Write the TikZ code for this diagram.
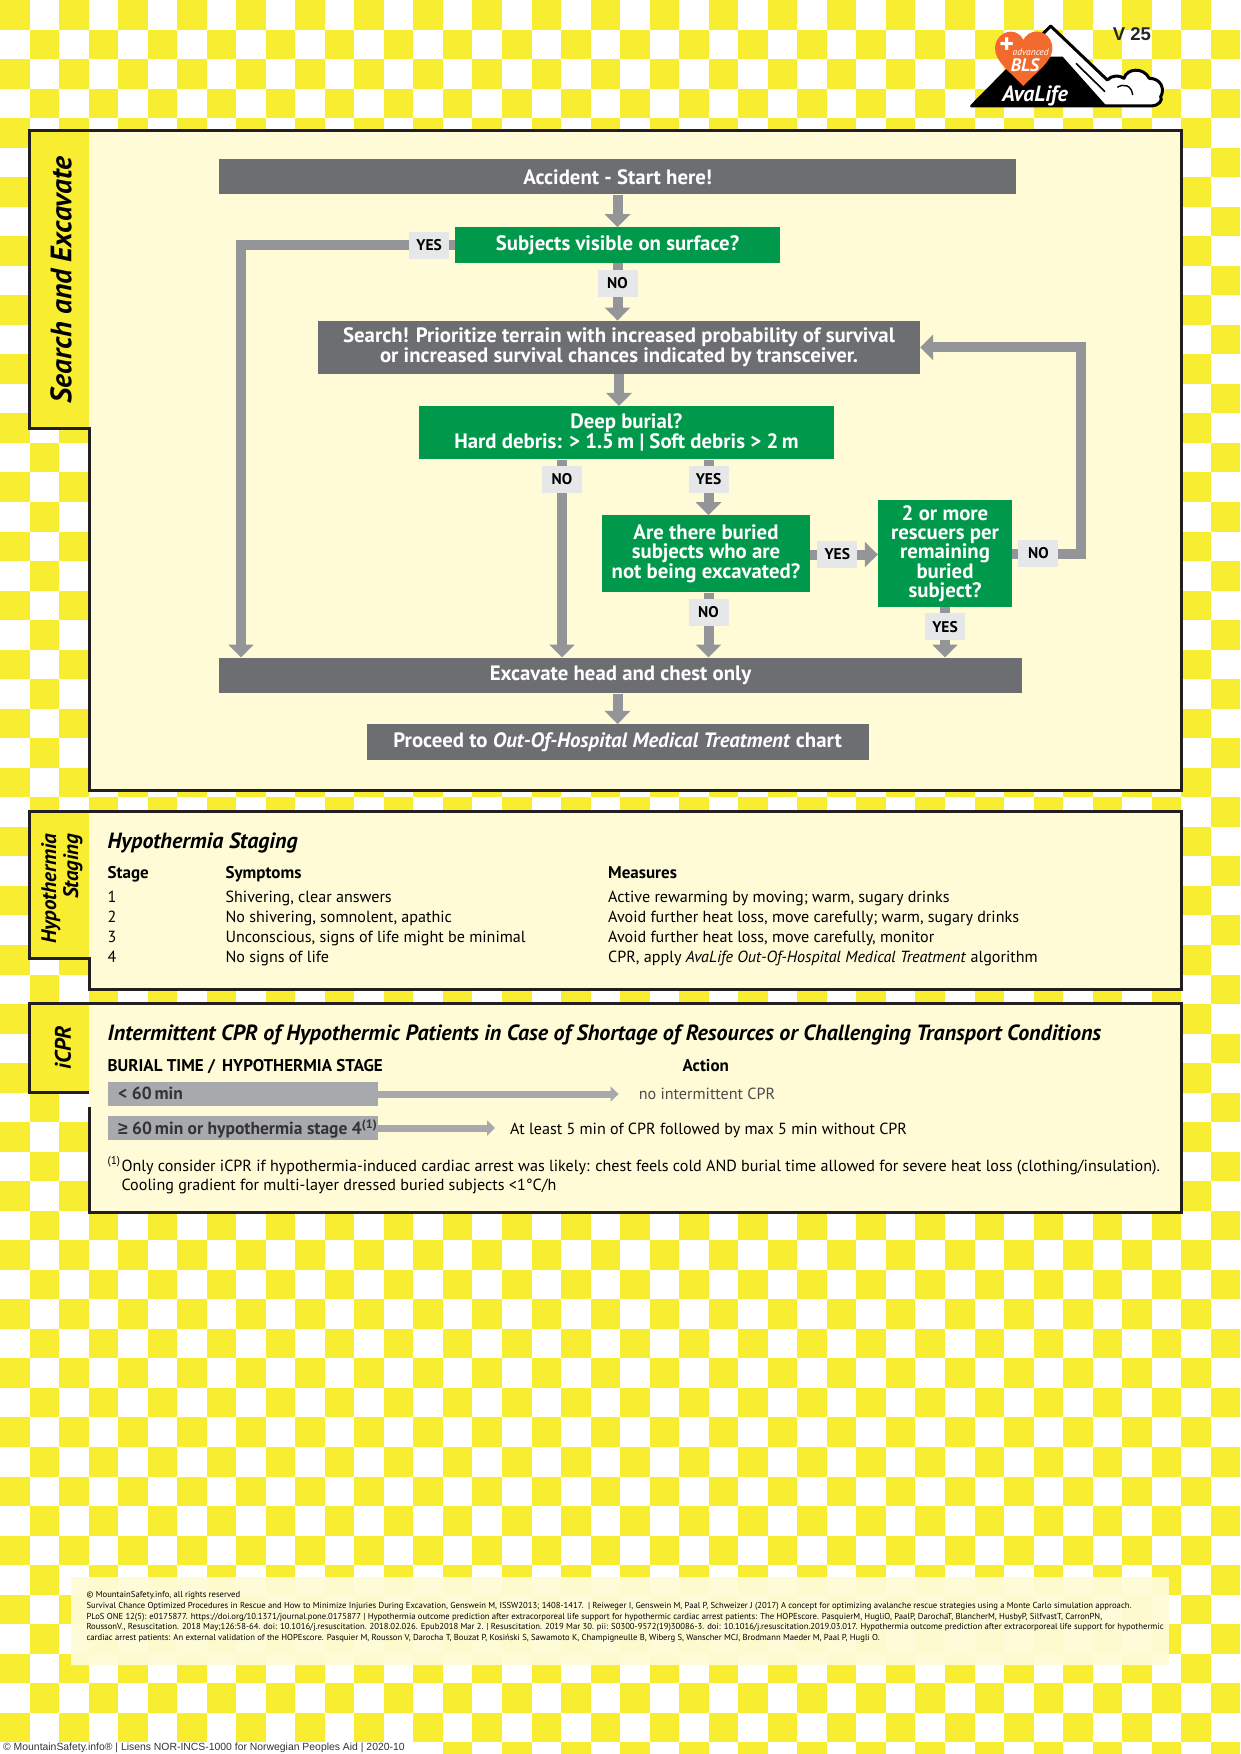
\documentclass[tikz,border=0pt]{standalone}
\usepackage{fontspec}
\usepackage{xcolor}
\setmainfont{PT Sans}
\newfontfamily\arialfont{Liberation Sans}
\usetikzlibrary{arrows.meta}
\definecolor{checkyellow}{HTML}{F9ED32}
\definecolor{panelcream}{HTML}{FEFBD6}
\definecolor{paneledge}{HTML}{231F20}
\definecolor{boxgrey}{HTML}{6D6E71}
\definecolor{boxgreen}{HTML}{00994C}
\definecolor{arrowgrey}{HTML}{939598}
\definecolor{taggrey}{HTML}{E6E7E8}
\definecolor{bargrey}{HTML}{A7A9AC}
\definecolor{heartorange}{HTML}{F26A2E}
\tikzstyle{panel} = [fill=panelcream, draw=paneledge, line width=3pt, line join=miter]
\tikzstyle{tabfill} = [fill=checkyellow]
\tikzstyle{tabtext} = [rotate=90, inner sep=0pt, font=\bfseries\itshape\fontsize{29.5}{30}\selectfont]
\tikzstyle{greybox} = [rectangle, fill=boxgrey, text=white, inner sep=0pt, align=center, font=\bfseries\fontsize{20.8}{19}\selectfont]
\tikzstyle{greenbox} = [greybox, fill=boxgreen]
\tikzstyle{answer} = [rectangle, fill=taggrey, text=black, inner sep=0pt, minimum width=40pt, minimum height=27pt, font=\bfseries\fontsize{15.5}{16}\selectfont]
\tikzstyle{arrow} = [draw=arrowgrey, line width=10pt, line join=miter, -{Triangle[length=13pt,width=25pt]}]
\tikzstyle{bararrow} = [draw=bargrey, line width=7pt, -{Triangle[length=8pt,width=15pt]}]
\tikzstyle{heading} = [anchor=base west, inner sep=0pt, font=\bfseries\itshape\fontsize{22}{22}\selectfont]
\tikzstyle{colhead} = [anchor=base west, inner sep=0pt, font=\bfseries\fontsize{17}{17}\selectfont]
\tikzstyle{cell} = [anchor=base west, inner sep=0pt, font=\fontsize{16.1}{17}\selectfont]
\tikzstyle{bar} = [rectangle, fill=bargrey, inner sep=0pt, minimum width=270.5pt, minimum height=24pt]
\tikzstyle{bartext} = [anchor=base west, inner sep=0pt, font=\bfseries\fontsize{17.5}{17.5}\selectfont, text=black!80]
\tikzstyle{reference} = [anchor=west, inner sep=0pt, font=\fontsize{8.65}{9.6}\selectfont]
\begin{document}
\begin{tikzpicture}[x=1pt,y=-1pt]
	\useasboundingbox (0,0) rectangle (1240,1754);
	\fill[white] (0,0) rectangle (1240,1754);
	\foreach \row in {0,...,59}
		\foreach \col in {0,...,41}
			{\ifodd\numexpr\row+\col\relax\else
				\fill[checkyellow] (\col*29.53,\row*29.53) rectangle +(29.53,29.53);
			\fi}
	\fill[white] (0,1742) rectangle (416,1754);
	\node (credit) [anchor=west, inner sep=0pt, font=\arialfont\fontsize{10.4}{12}\selectfont, text=black!80] at (3,1748) {© MountainSafety.info® | Lisens NOR-INCS-1000 for Norwegian Peoples Aid | 2020-10};

	% logo
	\begin{scope}[shift={(920,0)},x=0.3333pt,y=-0.3333pt]
		\draw[fill=white, draw=black, line width=3pt, line join=round] (155,318) -- (392,78) -- (562,240) .. controls (575,225) and (600,225) .. (612,235) .. controls (620,205) and (670,200) .. (688,235) .. controls (725,235) and (735,270) .. (722,290) .. controls (730,300) and (715,318) .. (695,318) -- cycle;
		\fill[black] (150,320) -- (300,170) -- (428,170) -- (558,316) -- cycle;
		\draw[line width=1.6pt] (468,190) -- (555,275);
		\draw[line width=1.4pt] (592,262) .. controls (610,250) and (635,255) .. (638,285);
		\fill[heartorange] (310,258) .. controls (270,215) and (225,185) .. (225,145) .. controls (225,115) and (250,95) .. (272,95) .. controls (290,95) and (303,105) .. (310,120) .. controls (318,105) and (330,95) .. (350,95) .. controls (375,95) and (397,115) .. (397,145) .. controls (397,185) and (350,215) .. (310,258) -- cycle;
		\node (plus) [text=white, inner sep=0pt, font=\bfseries\fontsize{28}{28}\selectfont] at (260,138) {+};
		\node (advanced) [text=white, inner sep=0pt, font=\itshape\fontsize{9.5}{9.5}\selectfont] at (332,157) {advanced};
		\node (bls) [text=white, inner sep=0pt, font=\bfseries\itshape\fontsize{18}{18}\selectfont] at (315,195) {BLS};
		\node (avalife) [text=white, inner sep=0pt, font=\bfseries\itshape\fontsize{22}{22}\selectfont] at (345,287) {AvaLife};
	\end{scope}
	\node (version) [inner sep=0pt, font=\arialfont\bfseries\fontsize{18.5}{18.5}\selectfont, text=black!85] at (1132,34) {V 25};

	% panels
	\draw[panel] (29,130) -- (1181,130) -- (1181,790.5) -- (89,790.5) -- (89,428) -- (29,428) -- cycle;
	\fill[tabfill] (30.5,131.5) rectangle (89,426.5);
	\draw[panel] (29,811.5) -- (1181,811.5) -- (1181,989) -- (89,989) -- (89,958.5) -- (29,958.5) -- cycle;
	\fill[tabfill] (30.5,813) rectangle (89,957);
	\fill[panelcream] (89,1003) rectangle (1181,1212.5);
	\draw[panel, fill=none] (89,1107) -- (89,1212.5) -- (1181,1212.5) -- (1181,1003) -- (29,1003) -- (29,1092.5) -- (89,1092.5);
	\fill[tabfill] (30.5,1004.5) rectangle (88.5,1091);
	\fill[panelcream, opacity=0.95] (71,1577) rectangle (1169,1664.5);

	\node (tabsearch) [tabtext] at (61,280) {Search and Excavate};
	\node (tabhypo) [tabtext, font=\bfseries\itshape\fontsize{21}{22}\selectfont, align=right] at (62,888.7) {Hypothermia\\Staging};
	\node (tabicpr) [tabtext, font=\bfseries\itshape\fontsize{22.5}{24}\selectfont] at (63,1048) {iCPR};

	% flow chart
	\node (accident) [greybox, minimum width=797pt, minimum height=35pt] at (617.7,176.8) {Accident - Start here!};
	\node (subjects) [greenbox, minimum width=325pt, minimum height=35.4pt] at (617.5,245) {Subjects visible on surface?};
	\node (search) [greybox, minimum width=602pt, minimum height=53.3pt] at (619,347.4) {Search! Prioritize terrain with increased probability of survival\\or increased survival chances indicated by transceiver.};
	\node (deep) [greenbox, minimum width=415.3pt, minimum height=53.3pt] at (626.4,432.7) {Deep burial?\\Hard debris: > 1.5\,m | Soft debris > 2\,m};
	\node (buried) [greenbox, minimum width=208pt, minimum height=77pt] at (706,553.8) {Are there buried\\subjects who are\\not being excavated?};
	\node (rescuers) [greenbox, minimum width=134pt, minimum height=106.4pt] at (945,553.5) {2 or more\\rescuers per\\remaining\\buried\\subject?};
	\node (excavate) [greybox, minimum width=803pt, minimum height=35.6pt] at (620.5,675.5) {Excavate head and chest only};
	\node (proceed) [greybox, minimum width=502pt, minimum height=35.7pt] at (617.6,742) {Proceed to \textit{Out-Of-Hospital Medical Treatment} chart};

	\coordinate (leftrail) at (241,245);
	\coordinate (returnrail) at (1081,347.4);
	\coordinate (deepleft) at (562,480);
	\coordinate (deepright) at (708.5,480);
	\coordinate (buriedright) at (0,554.5);

	\draw [arrow] (accident.south -| subjects) -- (subjects.north);
	\draw [arrow] (subjects.south) -- node (subjectsno) [answer, pos=0.35] {NO} (search.north -| subjects);
	\draw [arrow] (search.south) -- (search.south |- deep.north);
	\draw [arrow] (subjects.west) -| node (subjectsyes) [answer, pos=0.06] {YES} (excavate.north -| leftrail);
	\draw [arrow] (deep.south -| deepleft) -- node (deepno) [answer, pos=0.1] {NO} (excavate.north -| deepleft);
	\draw [arrow] (deep.south -| deepright) -- node (deepyes) [answer, pos=0.36] {YES} (buried.north -| deepright);
	\draw [arrow] (buried.south -| deepright) -- node (buriedno) [answer, pos=0.3] {NO} (excavate.north -| deepright);
	\draw [arrow] (buried.east |- buriedright) -- node (buriedyes) [answer, pos=0.4] {YES} (rescuers.west |- buriedright);
	\draw [arrow] (rescuers.south) -- node (rescuersyes) [answer, pos=0.39] {YES} (excavate.north -| rescuers);
	\draw [arrow] (rescuers.east) -| node (rescuersno) [answer, pos=0.19] {NO} (returnrail) -- (search.east);
	\draw [arrow] (excavate.south -| proceed) -- (proceed.north);

	% staging table
	\node (hypotitle) [heading] at (107.5,848.3) {Hypothermia Staging};
	\node (stagehead) [colhead] at (107.5,878.3) {Stage};
	\node (symptomhead) [colhead] at (225.4,878.3) {Symptoms};
	\node (measurehead) [colhead] at (608,878.3) {Measures};
	\node (stageone) [cell] at (107.5,902.7) {1};
	\node (stagetwo) [cell] at (107.5,922.7) {2};
	\node (stagethree) [cell] at (107.5,942.5) {3};
	\node (stagefour) [cell] at (107.5,962.5) {4};
	\node (symptomone) [cell] at (225.4,902.7) {Shivering, clear answers};
	\node (symptomtwo) [cell] at (225.4,922.7) {No shivering, somnolent, apathic};
	\node (symptomthree) [cell] at (225.4,942.5) {Unconscious, signs of life might be minimal};
	\node (symptomfour) [cell] at (225.4,962.5) {No signs of life};
	\node (measureone) [cell] at (608,902.7) {Active rewarming by moving; warm, sugary drinks};
	\node (measuretwo) [cell] at (608,922.7) {Avoid further heat loss, move carefully; warm, sugary drinks};
	\node (measurethree) [cell] at (608,942.5) {Avoid further heat loss, move carefully, monitor};
	\node (measurefour) [cell] at (608,962.5) {CPR, apply \textit{AvaLife Out-Of-Hospital Medical Treatment} algorithm};

	% iCPR
	\node (icprtitle) [heading] at (107.5,1040.7) {Intermittent CPR of Hypothermic Patients in Case of Shortage of Resources or Challenging Transport Conditions};
	\node (burialhead) [colhead] at (107.5,1071) {BURIAL TIME /\, HYPOTHERMIA STAGE};
	\node (actionhead) [colhead] at (682.5,1071) {Action};
	\node (barone) [bar, anchor=west] at (107.5,1094) {};
	\node (bartwo) [bar, anchor=west] at (107.5,1128) {};
	\node (actionone) [cell, text=black!70] at (638.6,1099.3) {no intermittent CPR};
	\node (actiontwo) [cell] at (510,1134.3) {At least 5 min of CPR followed by max 5 min without CPR};
	\draw [bararrow, shorten >=20pt] (barone.east) -- (barone.east -| actionone.west);
	\draw [bararrow, shorten >=15pt] (bartwo.east) -- (bartwo.east -| actiontwo.west);
	\node (baronetext) [bartext] at (118,1099.3) {< 60\,min};
	\node (bartwotext) [bartext] at (118,1134.3) {{\arialfont ≥} 60\,min or hypothermia stage 4\textsuperscript{(1)}};
	\node (footmark) [cell] at (107.5,1171) {\textsuperscript{(1)}};
	\node (footone) [cell] at (121.4,1171) {Only consider iCPR if hypothermia-induced cardiac arrest was likely: chest feels cold AND burial time allowed for severe heat loss (clothing/insulation).};
	\node (foottwo) [cell] at (121.4,1190.7) {Cooling gradient for multi-layer dressed buried subjects <1°C/h};

	% references
	\node (refzero) [reference] at (86.3,1595) {© MountainSafety.info, all rights reserved};
	\node (refone) [reference] at (86.3,1606) {Survival Chance Optimized Procedures in Rescue and How to Minimize Injuries During Excavation, Genswein M, ISSW2013; 1408-1417.\ \ | Reiweger I, Genswein M, Paal P, Schweizer J (2017) A concept for optimizing avalanche rescue strategies using a Monte Carlo simulation approach.};
	\node (reftwo) [reference] at (86.3,1617) {PLoS ONE 12(5): e0175877. https://doi.org/10.1371/journal.pone.0175877 | Hypothermia outcome prediction after extracorporeal life support for hypothermic cardiac arrest patients: The HOPEscore. PasquierM, HugliO, PaalP, DarochaT, BlancherM, HusbyP, SilfvastT, CarronPN,};
	\node (refthree) [reference] at (86.3,1627.7) {RoussonV., Resuscitation. 2018 May;126:58-64. doi: 10.1016/j.resuscitation. 2018.02.026. Epub2018 Mar 2. | Resuscitation. 2019 Mar 30. pii: S0300-9572(19)30086-3. doi: 10.1016/j.resuscitation.2019.03.017. Hypothermia outcome prediction after extracorporeal life support for hypothermic};
	\node (reffour) [reference] at (86.3,1638.5) {cardiac arrest patients: An external validation of the HOPEscore. Pasquier M, Rousson V, Darocha T, Bouzat P, Kosiński S, Sawamoto K, Champigneulle B, Wiberg S, Wanscher MCJ, Brodmann Maeder M, Paal P, Hugli O.};
\end{tikzpicture}
\end{document}
